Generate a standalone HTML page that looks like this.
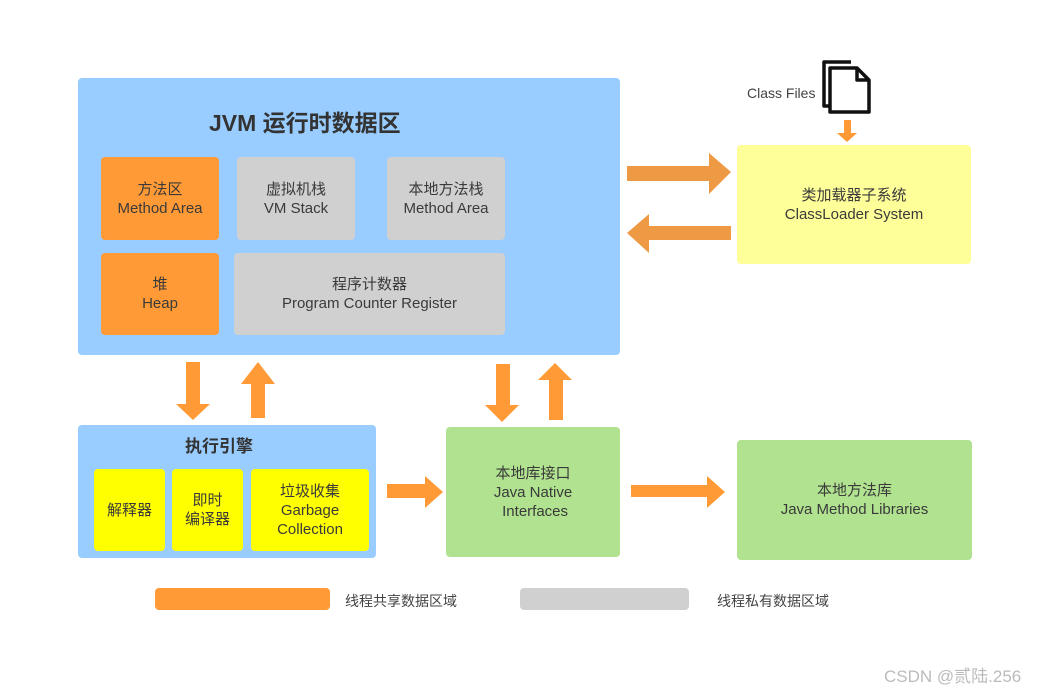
<!DOCTYPE html>
<html><head><meta charset="utf-8"><style>
body{margin:0;width:1050px;height:690px;background:#fff;position:relative;overflow:hidden;font-family:"Liberation Sans","Noto Sans CJK SC",sans-serif;color:#333}
.b{position:absolute;border-radius:4px;display:flex;flex-direction:column;align-items:center;justify-content:center;text-align:center;font-size:15px;line-height:19px;color:#3a3a3a}
.o{background:#FF9A36}.g{background:#D0D0D0}.y{background:#FFFF00}.gr{background:#B0E28F}
svg{position:absolute;left:0;top:0}
</style></head><body>
<div class="b" style="left:78px;top:78px;width:542px;height:277px;background:#99CCFF"></div>
<div style="position:absolute;left:209px;top:104px;font-size:23px;font-weight:bold;color:#333">JVM 运行时数据区</div>
<div class="b o" style="left:101px;top:157px;width:118px;height:83px">方法区<br>Method Area</div>
<div class="b g" style="left:237px;top:157px;width:118px;height:83px">虚拟机栈<br>VM Stack</div>
<div class="b g" style="left:387px;top:157px;width:118px;height:83px">本地方法栈<br>Method Area</div>
<div class="b o" style="left:101px;top:253px;width:118px;height:82px">堆<br>Heap</div>
<div class="b g" style="left:234px;top:253px;width:271px;height:82px">程序计数器<br>Program Counter Register</div>

<div class="b" style="left:737px;top:145px;width:234px;height:119px;background:#FFFF99">类加载器子系统<br>ClassLoader System</div>
<div style="position:absolute;left:747px;top:85px;font-size:14px;color:#444">Class Files</div>

<div class="b" style="left:78px;top:425px;width:298px;height:133px;background:#99CCFF"></div>
<div style="position:absolute;left:185px;top:432px;font-size:17px;font-weight:bold;color:#333">执行引擎</div>
<div class="b y" style="left:94px;top:469px;width:71px;height:82px">解释器</div>
<div class="b y" style="left:172px;top:469px;width:71px;height:82px">即时<br>编译器</div>
<div class="b y" style="left:251px;top:469px;width:118px;height:82px">垃圾收集<br>Garbage<br>Collection</div>

<div class="b gr" style="left:446px;top:427px;width:174px;height:130px">本地库接口<br>Java Native<br>&nbsp;Interfaces</div>
<div class="b gr" style="left:737px;top:440px;width:235px;height:120px">本地方法库<br>Java Method Libraries</div>

<div class="b o" style="left:155px;top:588px;width:175px;height:22px"></div>
<div style="position:absolute;left:345px;top:591px;font-size:14px;color:#444">线程共享数据区域</div>
<div class="b g" style="left:520px;top:588px;width:169px;height:22px"></div>
<div style="position:absolute;left:717px;top:591px;font-size:14px;color:#444">线程私有数据区域</div>
<div style="position:absolute;left:884px;top:662px;font-size:17px;color:#bbb">CSDN @贰陆.256</div>

<svg width="1050" height="690">
<g fill="#EE9944">
<polygon points="627,166 709,166 709,153 731,172 709,194 709,181 627,181"/>
<polygon points="731,226 649,226 649,214 627,233 649,253 649,240 731,240"/>
</g>
<g fill="#FF9A36">
<polygon points="186,362 200,362 200,404 210,404 193,420 176,404 186,404"/>
<polygon points="251,418 265,418 265,384 275,384 258,362 241,384 251,384"/>
<polygon points="496,364 510,364 510,405 519,405 502,422 485,405 496,405"/>
<polygon points="549,420 563,420 563,380 572,380 555,363 538,380 549,380"/>
<polygon points="387,484 425,484 425,476 443,492 425,508 425,498 387,498"/>
<polygon points="631,485 707,485 707,476 725,492 707,508 707,497 631,497"/>
<polygon points="844,120 851,120 851,133 857,133 847,142 837,133 844,133"/>
</g>
<g fill="#fff" stroke="#111" stroke-width="3.5" stroke-linejoin="round">
<path d="M851,62 L824,62 L824,106 L830,106"/>
<path d="M830,68 L857,68 L869,80 L869,112 L830,112 Z"/>
<path d="M857,68 L857,80 L869,80" fill="none"/>
</g>
</svg>
</body></html>
